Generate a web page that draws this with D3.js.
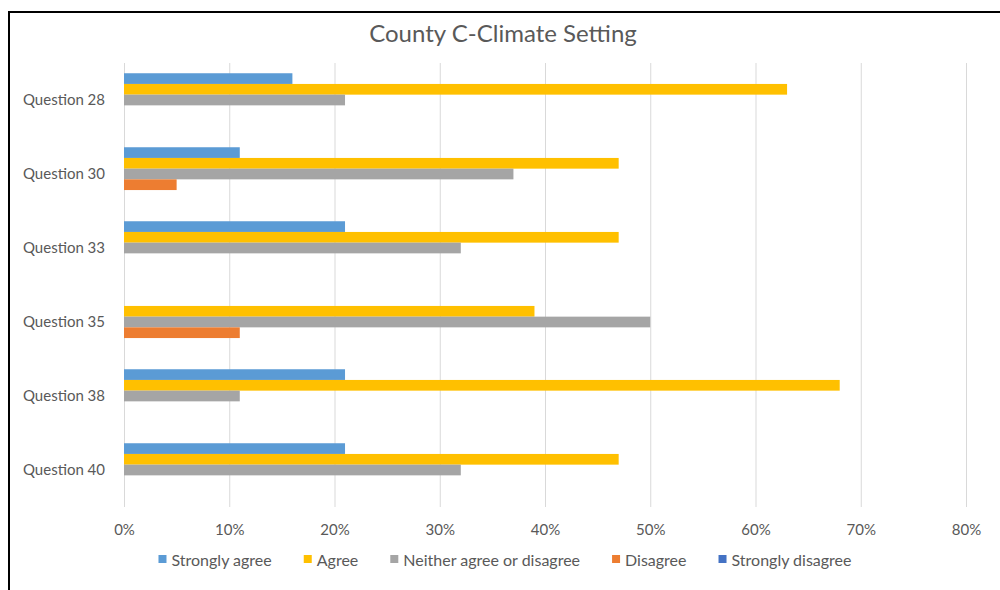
<!DOCTYPE html>
<html>
<head>
<meta charset="utf-8">
<script src="https://cdn.jsdelivr.net/npm/d3@7"></script>
<style>
  body { margin: 0; background: #fff; }
  svg { display: block; font-family: Lato, "Open Sans", sans-serif; }
  .axis text { fill: #595959; font-size: 15px; }
  .grid line { stroke: #d9d9d9; stroke-width: 1; }
</style>
</head>
<body>
<div id="chart"></div>
<script>
// data
const questions = ['Question 28', 'Question 30', 'Question 33', 'Question 35', 'Question 38', 'Question 40'];
const seriesNames = ['Strongly agree', 'Agree', 'Neither agree or disagree', 'Disagree', 'Strongly disagree'];
const seriesColors = ['#5b9bd5', '#ffc000', '#a5a5a5', '#ed7d31', '#4472c4'];
const stronglyAgree = [0.16, 0.11, 0.21, 0.00, 0.21, 0.21];
const agree         = [0.63, 0.47, 0.47, 0.39, 0.68, 0.47];
const neither       = [0.21, 0.37, 0.32, 0.50, 0.11, 0.32];
const disagree      = [0.00, 0.05, 0.00, 0.11, 0.00, 0.00];
const stronglyDis   = [0.00, 0.00, 0.00, 0.00, 0.00, 0.00];
const xTicks = [0, 0.1, 0.2, 0.3, 0.4, 0.5, 0.6, 0.7, 0.8];

const seriesValues = [stronglyAgree, agree, neither, disagree, stronglyDis];

const width = 1000, height = 590;
const margin = { top: 63, right: 34, bottom: 83, left: 124 };
const innerW = 842;
const innerH = height - margin.top - margin.bottom;

const svg = d3.select('#chart').append('svg')
    .attr('width', width)
    .attr('height', height);

// outer frame
svg.append('rect')
    .attr('x', 9).attr('y', 12)
    .attr('width', 1010).attr('height', 600)
    .attr('fill', 'none')
    .attr('stroke', '#000')
    .attr('stroke-width', 2);

svg.append('text')
    .attr('x', 503).attr('y', 32)
    .attr('text-anchor', 'middle')
    .attr('dominant-baseline', 'central')
    .attr('fill', '#595959')
    .style('font-size', '24px')
    .text('County C-Climate Setting');

const chart = svg.append('g')
    .attr('transform', `translate(${margin.left},${margin.top})`);

const xScale = d3.scaleLinear().domain([0, 0.8]).range([0, innerW]);
const yScale = d3.scaleBand().domain(questions).range([0, innerH])
    .paddingInner(0.277).paddingOuter(0.1385);
const ySub = d3.scaleBand().domain(seriesNames).range([0, yScale.bandwidth()]);

// gridlines
chart.append('g')
    .attr('class', 'grid')
    .call(d3.axisBottom(xScale).tickValues(xTicks).tickSize(innerH).tickFormat(''))
    .call(g => g.select('.domain').remove());

// bars
const groups = chart.selectAll('.group')
    .data(questions)
    .join('g')
    .attr('class', 'group')
    .attr('transform', d => `translate(0,${yScale(d)})`);

groups.selectAll('rect')
    .data((q, qi) => seriesNames.map((s, si) => ({ s, si, v: seriesValues[si][qi] })))
    .join('rect')
    .attr('x', 0)
    .attr('y', d => ySub(d.s))
    .attr('width', d => xScale(d.v))
    .attr('height', ySub.bandwidth())
    .attr('fill', d => seriesColors[d.si]);

// x axis labels
chart.append('g')
    .attr('class', 'axis x-axis')
    .attr('transform', `translate(0,${innerH + 14})`)
    .call(d3.axisBottom(xScale).tickValues(xTicks).tickSize(0).tickFormat(d3.format('.0%')))
    .call(g => g.select('.domain').remove())
    .attr('font-family', null);

// y axis labels
chart.append('g')
    .attr('class', 'axis y-axis')
    .attr('transform', 'translate(-16,0)')
    .call(d3.axisLeft(yScale).tickSize(0))
    .call(g => g.select('.domain').remove())
    .attr('font-family', null);

// legend
const legend = svg.append('g').attr('class', 'legend');
let lx = 0;
seriesNames.forEach((name, i) => {
    const item = legend.append('g').attr('transform', `translate(${lx},0)`);
    item.append('rect')
        .attr('x', 0).attr('y', -4)
        .attr('width', 8).attr('height', 8)
        .attr('fill', seriesColors[i]);
    const t = item.append('text')
        .attr('x', 13).attr('y', 0)
        .attr('dominant-baseline', 'central')
        .attr('fill', '#595959')
        .style('font-size', '16px')
        .text(name);
    lx += 13 + t.node().getComputedTextLength() + 32;
});
lx -= 32;
legend.attr('transform', `translate(${505 - lx / 2},559)`);
</script>
</body>
</html>
